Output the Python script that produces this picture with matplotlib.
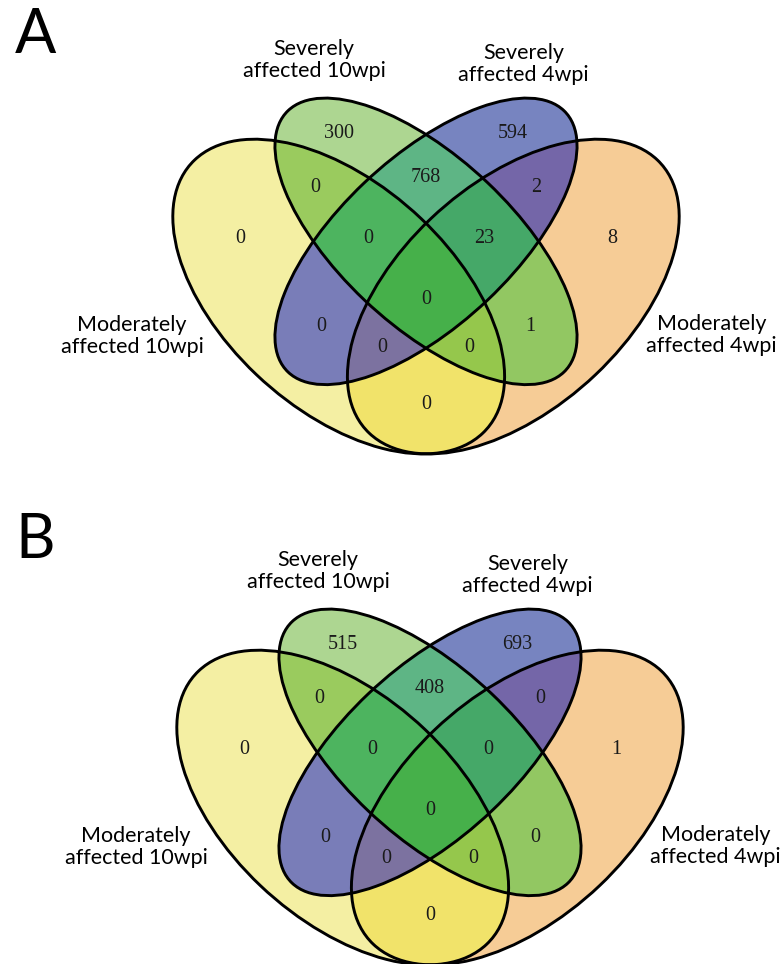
import numpy as np
import matplotlib.pyplot as plt
from matplotlib.patches import Ellipse

# set names and region keys (M10 = moderately 10wpi, S10 = severely 10wpi, ...)
set_names = ["M10", "S10", "S4", "M4"]
set_labels = ["Moderately\naffected 10wpi", "Severely\naffected 10wpi",
              "Severely\naffected 4wpi", "Moderately\naffected 4wpi"]

regions = ["S10", "S10&S4", "S4", "M10&S10", "M10&S10&S4", "M10&S10&S4&M4",
           "S10&S4&M4", "S4&M4", "M10", "M10&S4", "M10&S4&M4", "M10&M4",
           "M10&S10&M4", "S10&M4", "M4"]
counts_A = [300, 768, 594, 0, 0, 0, 23, 2, 0, 0, 0, 0, 0, 1, 8]
counts_B = [515, 408, 693, 0, 0, 0, 0, 0, 0, 0, 0, 0, 0, 0, 1]

# colour of every region
region_colors = {
    "M10": "#F4EFA3", "S10": "#ADD691", "S4": "#7784C0", "M4": "#F6CC96",
    "M10&S10": "#9ACB5E", "S10&S4": "#5EB585", "S4&M4": "#7466A8",
    "M10&S4": "#797DB8", "S10&M4": "#92C762", "M10&M4": "#F1E36A",
    "M10&S10&S4": "#4DB45F", "S10&S4&M4": "#45A868",
    "M10&S4&M4": "#7C72A0", "M10&S10&M4": "#95C74C",
    "M10&S10&S4&M4": "#46B04A",
}

# ellipse layout (x, y, a, b, rotation) in unit coordinates, VennDiagram style
ellipses = {
    "M10": (0.35, 0.47, 0.35, 0.20, 135),
    "S10": (0.50, 0.57, 0.335, 0.15, 135),
    "S4": (0.50, 0.57, 0.335, 0.15, 45),
    "M4": (0.65, 0.47, 0.35, 0.20, 45),
}
label_pos = {
    "S10": (0.35, 0.766), "S10&S4": (0.50, 0.685), "S4": (0.65, 0.766),
    "M10&S10": (0.31, 0.667), "M10&S10&S4": (0.40, 0.576),
    "M10&S10&S4&M4": (0.50, 0.464), "S10&S4&M4": (0.60, 0.576),
    "S4&M4": (0.69, 0.667), "M10": (0.18, 0.576), "M10&S4": (0.32, 0.415),
    "M10&S4&M4": (0.425, 0.377), "M10&M4": (0.50, 0.274),
    "M10&S10&M4": (0.575, 0.377), "S10&M4": (0.68, 0.415), "M4": (0.82, 0.576),
}
set_label_pos = [(-0.005, 0.399), (0.308, 0.899), (0.668, 0.892), (0.991, 0.400)]

W, H = 783, 964
SX, SY = 582, 552   # pixels per unit


def inside(u, v, e):
    cx, cy, a, b, rot = e
    t = np.deg2rad(rot)
    dx, dy = u - cx, v - cy
    xr = dx * np.cos(t) + dy * np.sin(t)
    yr = -dx * np.sin(t) + dy * np.cos(t)
    return (xr / a) ** 2 + (yr / b) ** 2 <= 1


def draw_venn(fig, top_px, bot_px, cx_px, y0_px, counts):
    ax = fig.add_axes([0, 1 - bot_px / H, 1, (bot_px - top_px) / H])
    ax.set_xlim(0.5 - cx_px / SX, 0.5 + (W - cx_px) / SX)
    ax.set_ylim((y0_px - bot_px) / SY, (y0_px - top_px) / SY)
    ax.axis("off")

    # region fills
    uu, vv = np.meshgrid(np.linspace(0, 1, 1200), np.linspace(0.15, 0.85, 840))
    masks = {n: inside(uu, vv, ellipses[n]) for n in set_names}
    rgba = np.zeros(uu.shape + (4,))
    for key, col in region_colors.items():
        members = key.split("&")
        m = np.ones(uu.shape, bool)
        for n in set_names:
            m &= masks[n] if n in members else ~masks[n]
        rgba[m] = plt.matplotlib.colors.to_rgba(col)
    ax.imshow(rgba, extent=(0, 1, 0.15, 0.85), origin="lower",
              aspect="auto", interpolation="nearest", zorder=1)

    # outlines
    for n in set_names:
        cx, cy, a, b, rot = ellipses[n]
        ax.add_patch(Ellipse((cx, cy), 2 * a, 2 * b, angle=rot, fill=False,
                             edgecolor="black", lw=2.1, zorder=2))

    for key, c in zip(regions, counts):
        x, y = label_pos[key]
        ax.text(x, y, str(c), ha="center", va="center", fontsize=14.5,
                family="Liberation Serif", color="#1a1a1a", zorder=3)

    for lab, (x, y) in zip(set_labels, set_label_pos):
        ax.text(x, y, lab, ha="center", va="center", fontsize=15.5,
                family="Lato", linespacing=1.12, multialignment="center", zorder=3)
    return ax


fig = plt.figure(figsize=(W / 100, H / 100), dpi=100)
draw_venn(fig, 0, 482, 426, 556, counts_A)
draw_venn(fig, 482, 964, 430, 1067, counts_B)

fig.text(15 / W, 1 - 53 / H, "A", fontsize=44, family="Lato", va="baseline")
fig.text(15 / W, 1 - 558 / H, "B", fontsize=44, family="Lato", va="baseline")

fig.savefig("out.png", dpi=100)
